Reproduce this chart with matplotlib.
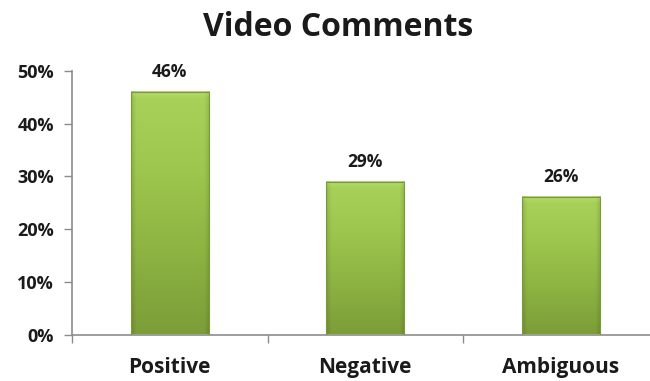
import numpy as np
import matplotlib
matplotlib.use("Agg")
import matplotlib.pyplot as plt
from matplotlib.colors import LinearSegmentedColormap

categories = ["Positive", "Negative", "Ambiguous"]
values = [46, 29, 26]
value_labels = ["46%", "29%", "26%"]
y_ticks = [0, 10, 20, 30, 40, 50]
y_tick_labels = ["0%", "10%", "20%", "30%", "40%", "50%"]

W, H = 650, 381
fig = plt.figure(figsize=(W / 100, H / 100), dpi=100)
ax = fig.add_axes([72 / W, 1 - 334.5 / H, (650 - 72) / W, (334.5 - 71) / H])

font = "Open Sans"
axis_col = "#8c8c8c"

bar_width = 0.40
bars = ax.bar(range(len(categories)), values, width=bar_width,
              color="none", edgecolor="none", zorder=2)

# vertical green gradient fill for each bar, with soft bevelled sides
grad = LinearSegmentedColormap.from_list(
    "greens", ["#7c9d38", "#8db342", "#9cc64d", "#a8d25a"])
ny, nx = 200, 60
yy = np.linspace(0, 1, ny)[:, None]
xx = np.linspace(0, 1, nx)[None, :]
base = np.repeat(yy, nx, axis=1)
for rect in bars:
    x0, y0 = rect.get_x(), rect.get_y()
    w, h = rect.get_width(), rect.get_height()
    rgb = grad(base)[..., :3]
    # darken narrow side strips and brighten the top strip
    side = np.clip(1 - np.minimum(xx, 1 - xx) / 0.06, 0, 1)
    rgb = rgb * (1 - 0.12 * side[..., None])
    top_px = 7 / (h * 5.27)
    top = np.clip(1 - (1 - yy) / top_px, 0, 1)
    rgb = rgb + (np.array([0.80, 0.93, 0.55]) - rgb) * (0.35 * top[..., None])
    ax.imshow(rgb, extent=[x0, x0 + w, y0, y0 + h], origin="lower",
              aspect="auto", zorder=2, interpolation="bilinear")
    ax.add_patch(plt.Rectangle((x0, y0), w, h, fill=False,
                               edgecolor="#7a9a3a", linewidth=0.8, zorder=3))

for rect, lab in zip(bars, value_labels):
    ax.annotate(lab, (rect.get_x() + rect.get_width() / 2, rect.get_height()),
                xytext=(0, 8), textcoords="offset points", ha="center",
                va="bottom", fontsize=12.5, fontweight="bold", family=font,
                color="#1a1a1a")

ax.set_xlim(-0.5, (650 - 72) / 195.5 - 0.5)
ax.set_ylim(0, 50)
ax.set_yticks(y_ticks)
ax.set_yticklabels(y_tick_labels, fontsize=13, fontweight="bold",
                   family=font, color="#1a1a1a")
ax.set_xticks(range(len(categories)))
ax.set_xticklabels(categories, fontsize=15, fontweight="bold",
                   family=font, color="#1a1a1a")
ax.tick_params(axis="x", which="major", length=0, pad=16)
ax.set_xticks([-0.5, 0.5, 1.5], minor=True)
ax.tick_params(axis="x", which="minor", length=6, color=axis_col, width=1,
               direction="out")
ax.tick_params(axis="y", length=6, color=axis_col, width=1, direction="out",
               pad=7)

for s in ["top", "right"]:
    ax.spines[s].set_visible(False)
for s in ["left", "bottom"]:
    ax.spines[s].set_color(axis_col)
    ax.spines[s].set_linewidth(1.2)

fig.text(338 / W, 1 - 28 / H, "Video Comments", ha="center", va="center",
         fontsize=23, fontweight="bold", family=font, color="#1a1a1a")

fig.savefig("out.png", dpi=100)
